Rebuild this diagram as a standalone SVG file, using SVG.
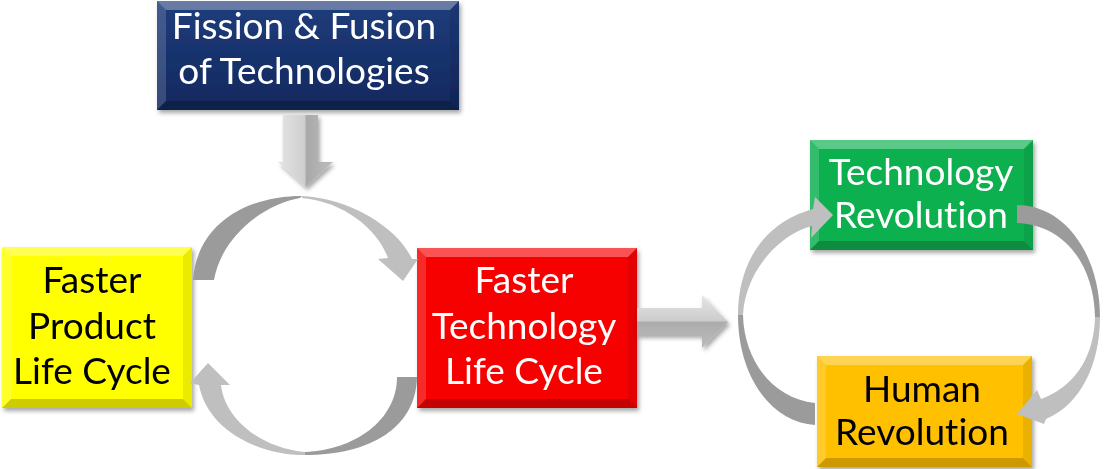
<svg xmlns="http://www.w3.org/2000/svg" width="1104" height="469" viewBox="0 0 1104 469">
<defs>
<style>
.t{font-family:Lato,"Liberation Sans",sans-serif;font-size:37px;text-anchor:middle;font-variant-ligatures:none}
.w{fill:#ffffff}.k{fill:#000000}
.bt{fill:#ffffff;fill-opacity:.32}
.bl{fill:#ffffff;fill-opacity:.16}
.br{fill:#000000;fill-opacity:.08}
.bb{fill:#000000;fill-opacity:.2}
.dk{fill:#9b9b9b}.lt{fill:#bfbfbf}
</style>
<filter id="sh" x="-10%" y="-10%" width="125%" height="130%">
<feDropShadow dx="2" dy="3" stdDeviation="2" flood-color="#000" flood-opacity=".35"/>
</filter>
<linearGradient id="gv" x1="0" y1="0" x2="1" y2="0">
<stop offset="0" stop-color="#e4e4e4"/><stop offset=".48" stop-color="#cfcfcf"/><stop offset=".52" stop-color="#a9a9a9"/><stop offset="1" stop-color="#bdbdbd"/>
</linearGradient>
<linearGradient id="gh" x1="0" y1="0" x2="0" y2="1">
<stop offset="0" stop-color="#e6e6e6"/><stop offset=".48" stop-color="#cdcdcd"/><stop offset=".52" stop-color="#acacac"/><stop offset="1" stop-color="#bcbcbc"/>
</linearGradient>
<linearGradient id="navy" x1="0" y1="0" x2="0" y2="1">
<stop offset="0" stop-color="#1f3d7c"/><stop offset="1" stop-color="#11285e"/>
</linearGradient>
</defs>
<g id="node-fission" filter="url(#sh)">
<rect x="157" y="1" width="302" height="109" fill="url(#navy)"/>
<polygon class="bt" points="157,1 459,1 450,10 166,10"/>
<polygon class="bl" points="157,1 166,10 166,101 157,110"/>
<polygon class="br" points="459,1 459,110 450,101 450,10"/>
<polygon class="bb" points="157,110 459,110 450,101 166,101"/>
<text class="t w" x="304" y="39">Fission &amp; Fusion</text>
<text class="t w" x="304" y="84">of Technologies</text>
</g>
<g id="node-product" filter="url(#sh)">
<rect x="2" y="247" width="190" height="161" fill="#ffff00"/>
<polygon class="bt" points="2,247 192,247 183,256 11,256"/>
<polygon class="bl" points="2,247 11,256 11,399 2,408"/>
<polygon class="br" points="192,247 192,408 183,399 183,256"/>
<polygon class="bb" points="2,408 192,408 183,399 11,399"/>
<text class="t k" x="92" y="293">Faster</text>
<text class="t k" x="92" y="339">Product</text>
<text class="t k" x="92" y="384">Life Cycle</text>
</g>
<g id="node-technology-cycle" filter="url(#sh)">
<rect x="417" y="248" width="220" height="160" fill="#f60000"/>
<polygon class="bt" points="417,248 637,248 628,257 426,257"/>
<polygon class="bl" points="417,248 426,257 426,399 417,408"/>
<polygon class="br" points="637,248 637,408 628,399 628,257"/>
<polygon class="bb" points="417,408 637,408 628,399 426,399"/>
<text class="t w" x="524" y="293">Faster</text>
<text class="t w" x="524" y="339">Technology</text>
<text class="t w" x="524" y="384">Life Cycle</text>
</g>
<g id="node-tech-revolution" filter="url(#sh)">
<rect x="810" y="140" width="223" height="110" fill="#0db050"/>
<polygon class="bt" points="810,140 1033,140 1024,149 819,149"/>
<polygon class="bl" points="810,140 819,149 819,241 810,250"/>
<polygon class="br" points="1033,140 1033,250 1024,241 1024,149"/>
<polygon class="bb" points="810,250 1033,250 1024,241 819,241"/>
<text class="t w" x="921" y="185">Technology</text>
<text class="t w" x="921" y="228">Revolution</text>
</g>
<g id="node-human-revolution" filter="url(#sh)">
<rect x="817" y="356" width="215" height="111" fill="#ffc000"/>
<polygon class="bt" points="817,356 1032,356 1023,365 826,365"/>
<polygon class="bl" points="817,356 826,365 826,458 817,467"/>
<polygon class="br" points="1032,356 1032,467 1023,458 1023,365"/>
<polygon class="bb" points="817,467 1032,467 1023,458 826,458"/>
<text class="t k" x="922" y="402">Human</text>
<text class="t k" x="922" y="445">Revolution</text>
</g>
<g id="connectors">
<g id="arrow-down" filter="url(#sh)">
<path d="M283,115 H318 V162 H333 L305.5,187 L278,162 H283 Z" fill="url(#gv)"/>
</g>
<g id="arrow-right" filter="url(#sh)">
<path d="M637,308 H702 V295 L728,322 L702,348 V335 H637 Z" fill="url(#gh)"/>
</g>
<g id="cycle-left-top">
<path class="dk" d="M193,280 C197,225 245,196 302,196 L300,198 C265,204 222,235 214,280 Z"/>
<path class="lt" d="M302,196 C350,198 398,228 412,259 L418,259 L403,281 L378,259 L388,258 C378,230 345,202 302,198 Z"/>
</g>
<g id="cycle-left-bottom">
<path class="dk" d="M417,377 C416,428 370,455 305,455 L305,452 C355,450 397,420 397,377 Z"/>
<path class="lt" d="M305,455 C255,455 207,428 199,385 L190,383 L208,363 L230,385 L221,385 C225,420 262,448 305,452 Z"/>
</g>
<g id="cycle-right-left">
<path class="dk" d="M815,425 C770,422 738,375 738,315 L743,315 C744,360 772,398 815,403 Z"/>
<path class="lt" d="M738,315 C738,262 765,222 813,209 L815,197 L833,215 L811,238 L812,226 C775,236 745,275 743,315 Z"/>
</g>
<g id="cycle-right-right">
<path class="dk" d="M1017,205 C1065,205 1100,255 1100,317 L1095,317 C1094,265 1065,225 1017,223 Z"/>
<path class="lt" d="M1100,317 C1100,365 1080,405 1046,419 L1044,424 L1017,414 L1037,390 L1041,399 C1072,388 1094,360 1095,317 Z"/>
</g>
</g>
</svg>
